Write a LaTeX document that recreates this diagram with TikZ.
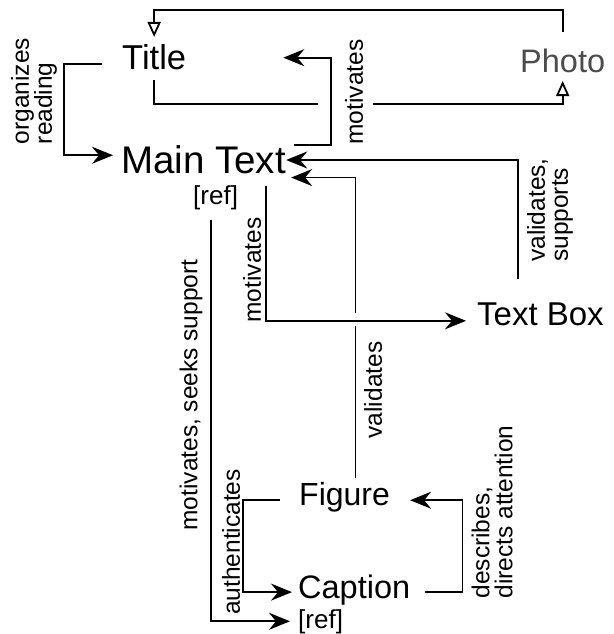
\documentclass[tikz,border=0pt]{standalone}
\usepackage{fontspec}
\setmainfont{Liberation Sans}
\usetikzlibrary{arrows.meta,calc}
\begin{document}
\begin{tikzpicture}[x=1pt,y=-1pt,
  conn/.style={line width=1.8pt},
  arr/.style={conn,-{Stealth[length=21pt,width=17pt,inset=7pt]}},
  hollow/.style={conn,-{Triangle[open,length=15pt,width=13pt]}},
  box/.style={inner sep=0pt,anchor=base west},
  lbl/.style={inner sep=0pt,rotate=90,align=left,font=\fontsize{24.5}{23}\selectfont},
]
\useasboundingbox (0,0) rectangle (613,634);

% document elements
\node[box,font=\fontsize{34.5}{34.5}\selectfont] (Title) at (122,70) {Title};
\node[box,font=\fontsize{32.5}{32.5}\selectfont,text=black!70] (Photo) at (520,72) {Photo};
\node[box,font=\fontsize{38.5}{38.5}\selectfont] (MainText) at (121,173) {Main Text};
\node[box,font=\fontsize{26}{26}\selectfont] (reftop) at (193,204) {[ref]};
\node[box,font=\fontsize{33}{33}\selectfont] (TextBox) at (477,325) {Text Box};
\node[box,font=\fontsize{32}{32}\selectfont] (Figure) at (299,505) {Figure};
\node[box,font=\fontsize{32.5}{32.5}\selectfont] (Caption) at (298,598) {Caption};
\node[box,font=\fontsize{26}{26}\selectfont] (refbot) at (298,628) {[ref]};

% relation labels
\node[lbl] (lOrg) at (34,91) {organizes\\reading};
\node[lbl] (lMotTop) at (354,92) {motivates};
\node[lbl] (lValSup) at (550,210) {validates,\\supports};
\node[lbl] (lMotMid) at (252,270) {motivates};
\node[lbl] (lVal) at (373,390) {validates};
\node[lbl] (lSeek) at (191,395) {motivates, seeks support};
\node[lbl] (lAuth) at (231,542) {authenticates};
\node[lbl] (lDesc) at (492,512) {describes,\\directs attention};

% helper points
\coordinate (gapL) at (318,104);
\coordinate (gapR) at (373,104);
\coordinate (figx) at ($(Figure.north)+(11,0)$);

% Photo -> Title
\draw[hollow] (Photo.north |- 0,32) -- (Photo.north |- 0,10) -| (Title.north |- 0,37);
% Title -> Photo, interrupted at the crossing
\draw[conn] (Title.south |- 0,80) |- (gapL);
\draw[hollow] (gapR) -| (Photo.south |- 0,81);
% Main Text -> Title
\draw[arr] ([xshift=8pt]MainText.north east) -- ++(37,0) |- ([xshift=97pt]Title.east);
% Title -> Main Text
\draw[arr] ([xshift=-20pt,yshift=-6.5pt]Title.west) -- ++(-38,0) |- ([xshift=-8pt,yshift=4pt]MainText.west);
% Text Box -> Main Text
\draw[arr] ($(TextBox.north west)+(41,-23)$) |- (MainText.east |- 0,160);
% Figure -> Main Text, interrupted at the crossing
\draw[conn] (figx |- 0,478) -- (figx |- 0,326);
\draw[arr] (figx |- 0,313) |- ([xshift=5pt,yshift=-4pt]MainText.south east);
% Main Text -> Text Box
\draw[arr] ([xshift=-20pt,yshift=-12pt]MainText.south east) |- ([xshift=-11pt,yshift=-7pt]TextBox.west);
% [ref] -> [ref]
\draw[arr] ([xshift=-4.5pt,yshift=-10pt]reftop.south) |- ([xshift=-8pt]refbot.west);
% Figure -> Caption
\draw[arr] ([xshift=-19pt,yshift=-3.5pt]Figure.west) -- ++(-37,0) |- ([xshift=-6pt,yshift=-2.5pt]Caption.west);
% Caption -> Figure
\draw[arr] ([xshift=15pt,yshift=-2.5pt]Caption.east) -- ++(37,0) |- ([xshift=20pt,yshift=-3.5pt]Figure.east);
\end{tikzpicture}
\end{document}
